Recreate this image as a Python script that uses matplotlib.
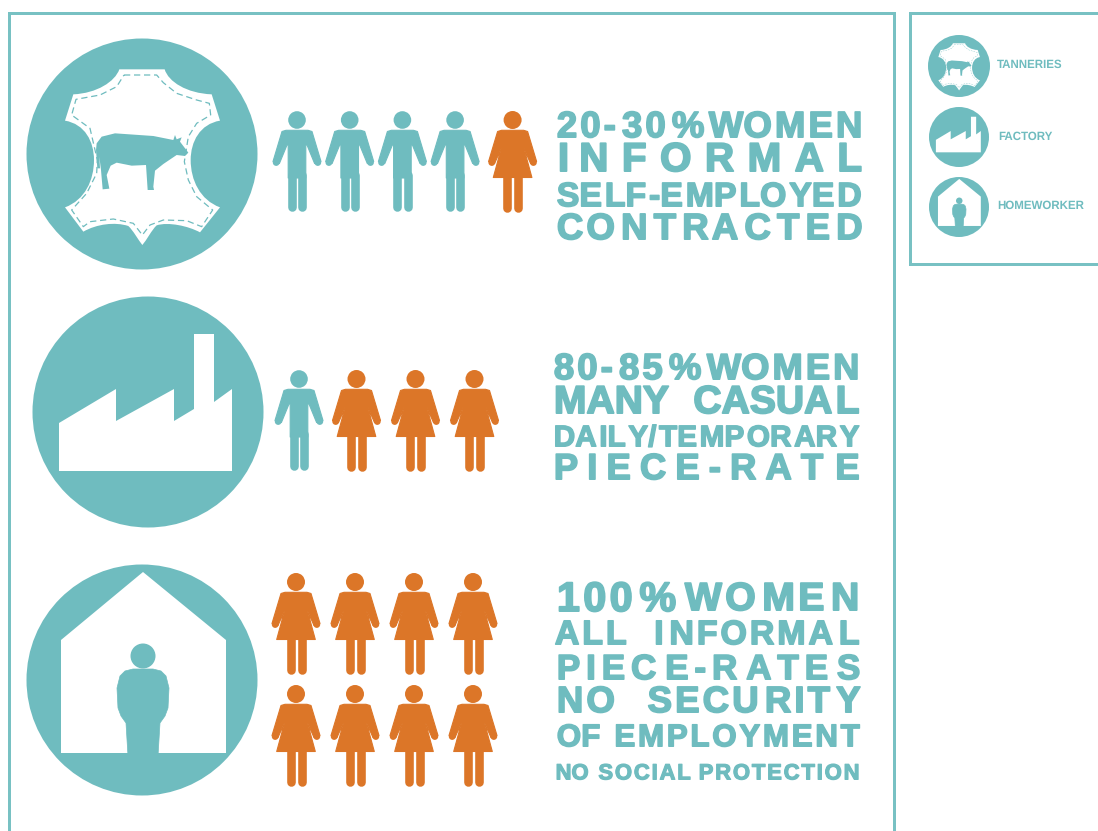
import matplotlib
matplotlib.use('Agg')
import matplotlib.pyplot as plt
import matplotlib.patheffects as pe
from matplotlib.patches import Circle, PathPatch, Polygon
from matplotlib.path import Path

TEAL = '#6FBCBF'
FRAME = '#78C1C3'
ORANGE = '#DC7628'

# values
sectors = ['TANNERIES', 'FACTORY', 'HOMEWORKER']
men_counts = [4, 1, 0]
women_counts = [1, 3, 8]
headline_share = ['20-30%', '80-85%', '100%']
headline_word = ['WOMEN', 'WOMEN', 'WOMEN']
detail_lines = [
    ['INFORMAL', 'SELF-EMPLOYED', 'CONTRACTED'],
    ['MANY  CASUAL', 'DAILY/TEMPORARY', 'PIECE-RATE'],
    ['ALL  INFORMAL', 'PIECE-RATES', 'NO  SECURITY', 'OF EMPLOYMENT', 'NO SOCIAL PROTECTION'],
]

# layout, in pixels of the 1098x831 picture
circle_pos = [(142, 154, 115.5), (148, 412, 115.5), (142, 680, 115.5)]
legend_pos = [(959, 66, 31), (959, 137, 30), (959, 207, 30)]
legend_text_pos = [(997, 65), (998, 137), (997, 206)]
icon_start = [(297, 111), (299, 370), (296, 573)]
headline_box = [
    [(556, 705, 110, 138), (708, 863, 110, 138)],
    [(553, 702, 352, 380), (706, 860, 352, 380)],
    [(556, 677, 580, 612), (684, 860, 581, 611)],
]
detail_box = [
    [(557, 863, 141, 172), (556, 863, 181, 207), (556, 863, 212, 240)],
    [(553, 860, 384, 414), (553, 860, 424, 447), (553, 860, 452, 480)],
    [(554, 861, 619, 645), (556, 861, 653, 680), (556, 861, 685, 713),
     (556, 861, 723, 747), (555, 861, 763, 780)],
]

plt.rcParams['text.hinting'] = 'none'
fig = plt.figure(figsize=(10.98, 8.31), dpi=100, facecolor='white')
ax = fig.add_axes([0, 0, 1, 1])
ax.set_xlim(0, 1098)
ax.set_ylim(831, 0)
ax.axis('off')
renderer = fig.canvas.get_renderer()
PT = 0.72  # one pixel in points


def thick_line(xs, ys, width, color, z=3):
    ax.plot(xs, ys, color=color, lw=width * PT, solid_capstyle='round', zorder=z)


def solid(pts, color, z=3, edge=0.8):
    ax.add_patch(Polygon(pts, fc=color, ec=color, lw=edge, joinstyle='round', zorder=z))


def draw_person(x, y, half, color):
    # half is the left half of the outline, head to crotch, mirrored for the right
    pts = [(x + a, y + b) for a, b in half] + [(x - a, y + b) for a, b in reversed(half)]
    solid(pts, color)
    for side in (-1, 1):
        ax.add_patch(Circle((x + side * 20.8, y + 51.5), 3.4, color=color, lw=0, zorder=3))


def draw_man(x, y):
    ax.add_patch(Circle((x, y + 9), 8.8, color=TEAL, lw=0, zorder=3))
    draw_person(x, y, [(-11, 19.3), (-15, 20.5), (-24, 50.5), (-17.6, 52.5), (-10, 34),
                       (-8.8, 34), (-8.8, 67)], TEAL)
    for side in (-1, 1):
        thick_line([x + side * 5.1, x + side * 5.1], [y + 64, y + 95.5], 8.6, TEAL)


def draw_woman(x, y):
    ax.add_patch(Circle((x, y + 9), 9, color=ORANGE, lw=0, zorder=3))
    draw_person(x, y, [(-11, 19.3), (-15, 20.5), (-24, 50.5), (-18, 52.5), (-11.4, 37.5),
                       (-19.3, 66.5)], ORANGE)
    for side in (-1, 1):
        thick_line([x + side * 5.5, x + side * 5.5], [y + 66, y + 97], 8.6, ORANGE)


def zoom_xy(cx, cy, r, pts):
    # outlines traced on a 3x crop, circle centre at (426, 462) there
    k = r / 115.5 / 3
    return [(cx + (a - 426) * k, cy + (b - 462) * k) for a, b in pts]


def draw_leather(cx, cy, r):
    ax.add_patch(Circle((cx, cy), r, color=TEAL, lw=0, zorder=1))
    hide = [(358, 208), (494, 208),
            (505, 245), (560, 280), (635, 283), (660, 362),
            (600, 372), (572, 425), (572, 480),
            (572, 540), (600, 600), (660, 622), (600, 697),
            (565, 678), (505, 665), (470, 676),
            (455, 690), (440, 720), (427, 735),
            (415, 720), (400, 692), (385, 678),
            (345, 665), (290, 672), (250, 695), (195, 622),
            (255, 600), (282, 540), (282, 480),
            (282, 425), (255, 372), (195, 362), (220, 283),
            (290, 280), (345, 245), (358, 208)]
    codes = [Path.MOVETO, Path.LINETO,
             Path.CURVE4, Path.CURVE4, Path.CURVE4, Path.LINETO,
             Path.CURVE4, Path.CURVE4, Path.CURVE4,
             Path.CURVE4, Path.CURVE4, Path.CURVE4, Path.LINETO,
             Path.CURVE4, Path.CURVE4, Path.CURVE4,
             Path.CURVE4, Path.CURVE4, Path.CURVE4,
             Path.CURVE4, Path.CURVE4, Path.CURVE4,
             Path.CURVE4, Path.CURVE4, Path.CURVE4, Path.LINETO,
             Path.CURVE4, Path.CURVE4, Path.CURVE4,
             Path.CURVE4, Path.CURVE4, Path.CURVE4, Path.LINETO,
             Path.CURVE4, Path.CURVE4, Path.CURVE4]
    ax.add_patch(PathPatch(Path(zoom_xy(cx, cy, r, hide), codes), fc='white', lw=0, zorder=2))
    stitch = [(372, 225), (470, 225), (490, 248), (530, 280), (590, 300), (628, 310), (632, 345),
              (590, 370), (565, 410), (553, 485), (565, 540), (590, 590), (638, 630), (605, 680),
              (560, 662), (490, 660), (450, 675), (427, 705), (400, 670), (340, 657), (270, 665),
              (250, 680), (215, 630), (260, 580), (290, 520), (292, 480), (270, 385), (215, 345),
              (228, 298), (300, 285), (350, 260), (372, 225)]
    xy = zoom_xy(cx, cy, r, stitch)
    ax.plot([p[0] for p in xy], [p[1] for p in xy], color=TEAL, lw=0.9 * r / 115.5,
            dashes=(5, 3), zorder=2.5)
    cow = [(290, 430), (305, 410), (345, 400), (460, 408), (520, 420), (525, 405), (530, 418),
           (545, 412), (540, 425), (565, 458), (555, 468), (530, 465), (490, 492), (465, 512),
           (460, 560), (462, 570), (443, 570), (438, 495), (395, 497), (350, 488), (332, 497),
           (320, 525), (328, 566), (308, 568), (303, 510), (298, 470), (300, 505), (292, 505),
           (288, 450)]
    ax.add_patch(Polygon(zoom_xy(cx, cy, r, cow), color=TEAL, lw=0, zorder=3))


def draw_factory(cx, cy, r):
    k = r / 115.5
    ax.add_patch(Circle((cx, cy), r, color=TEAL, lw=0, zorder=1))
    shape = [(59, 471), (59, 423), (116, 389), (116, 421), (174, 389), (174, 421), (194, 409),
             (194, 334), (214, 334), (214, 402), (232, 389), (232, 471)]
    ax.add_patch(Polygon([(cx + (a - 148) * k, cy + (b - 412) * k) for a, b in shape],
                         color='white', lw=0, zorder=2))


def draw_home(cx, cy, r):
    k = r / 115.5
    ax.add_patch(Circle((cx, cy), r, color=TEAL, lw=0, zorder=1))
    house = [(61, 640), (143, 572), (226, 640), (226, 753), (61, 753)]
    ax.add_patch(Polygon([(cx + (a - 142) * k, cy + (b - 680) * k) for a, b in house],
                         color='white', lw=0, zorder=2))
    ax.add_patch(Circle((cx + k, cy - 24 * k), 12.5 * k, color=TEAL, lw=0, zorder=3))
    body = [(133, 669), (153, 669), (161, 671), (166, 676), (169, 688), (168, 708), (165, 716),
            (160, 723), (158, 756), (128, 756), (126, 723), (121, 716), (118, 708), (117, 688),
            (120, 676), (125, 671)]
    solid([(cx + (a - 142) * k, cy + (b - 680) * k) for a, b in body], TEAL, edge=0.5)


def space_out(text, n):
    # n hair spaces spread as evenly as they go over the letter gaps
    gaps = len(text) - 1
    out = text[0]
    for i in range(gaps):
        out += '\u200a' * ((n * (i + 1)) // gaps - (n * i) // gaps) + text[i + 1]
    return out


def fit_line(text, box):
    # one real text per line, letter gaps made with hair spaces until the width fits
    x0, x1, y0, y1 = box
    stroke = max(1.2, (y1 - y0) * 0.06)
    want = y1 - y0 - stroke
    t = ax.text(x0 + stroke / 2, y1 - stroke / 2, text, family=['Liberation Sans', 'DejaVu Sans'],
                weight='bold', color=TEAL, ha='left', va='baseline', fontsize=want, zorder=4,
                path_effects=[pe.withStroke(linewidth=stroke * PT, foreground=TEAL)])
    best = None
    for n in range(0, 80):
        s = space_out(text, n)
        t.set_text(s)
        t.set_fontsize(want)
        w = t.get_window_extent(renderer).width
        fs = want * (x1 - x0 - stroke) / w
        if best is None or abs(fs - want) < abs(best[1] - want):
            best = (s, fs)
    t.set_text(best[0])
    t.set_fontsize(best[1])


# frames
ax.plot([9, 9, 894, 894], [831, 12.5, 12.5, 831], color=FRAME, lw=3 * PT, solid_joinstyle='miter')
ax.plot([1098, 910, 910, 1098], [12.5, 12.5, 263.5, 263.5], color=FRAME, lw=3 * PT,
        solid_joinstyle='miter')

# big circles and legend circles
drawers = [draw_leather, draw_factory, draw_home]
for i, draw in enumerate(drawers):
    draw(*circle_pos[i])
    draw(*legend_pos[i])
    ax.text(legend_text_pos[i][0], legend_text_pos[i][1], sectors[i], color=TEAL, fontsize=8.3,
            family='Liberation Sans', weight='bold', ha='left', va='center')

# people
for i in range(3):
    x, y = icon_start[i]
    kinds = ['m'] * men_counts[i] + ['w'] * women_counts[i]
    start_x = x
    for j, kind in enumerate(kinds):
        if kind == 'm':
            draw_man(x, y)
        else:
            draw_woman(x, y)
        if j + 1 == len(kinds):
            break
        if kinds[j + 1] == 'm':
            x += 52.7
        elif kind == 'm':
            x += 57.5
        else:
            x += 59
        if i == 2 and j == 3:
            x = start_x
            y += 112

# text blocks
for i in range(3):
    fit_line(headline_share[i], headline_box[i][0])
    fit_line(headline_word[i], headline_box[i][1])
    for line, box in zip(detail_lines[i], detail_box[i]):
        fit_line(line, box)

fig.savefig('out.png', dpi=100, facecolor='white')
